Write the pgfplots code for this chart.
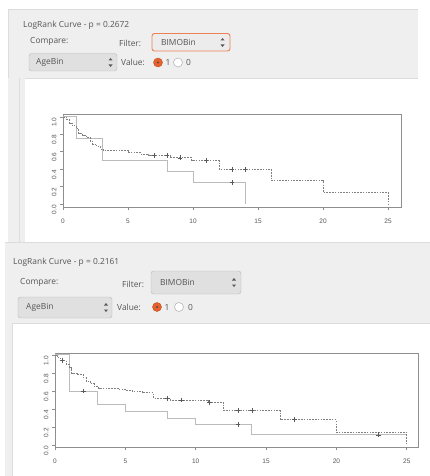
\documentclass[border=0pt]{standalone}
\usepackage{fontspec}
\setmainfont{Open Sans}
\newfontfamily\plotfont{Liberation Sans}
\usepackage{pgfplots}
\usepackage{pgfplotstable}
\pgfplotsset{compat=1.18}
\definecolor{panel}{HTML}{EFEFEF}
\definecolor{panelline}{HTML}{DCDCDC}
\definecolor{guitext}{HTML}{555555}
\definecolor{combofill}{HTML}{E0E0E0}
\definecolor{comboborder}{HTML}{B8B8B8}
\definecolor{ubuorange}{HTML}{E8602C}
\definecolor{framec}{HTML}{8E8E8E}
\definecolor{solidc}{HTML}{BBBBBB}
\definecolor{dashc}{HTML}{808080}
\definecolor{censc}{HTML}{5A5A5A}
\definecolor{tickc}{HTML}{555555}

\pgfplotstableread{
t s
0 1
1 0.75
3 0.5
8 0.375
10 0.25
14 0
}\topsolid
\pgfplotstableread{
t s
0 1
0.3 0.97
0.5 0.93
0.7 0.90
1.0 0.87
1.2 0.81
1.5 0.79
1.8 0.76
2.1 0.72
2.3 0.69
2.6 0.66
2.9 0.63
3.1 0.61
5.0 0.59
6.0 0.57
6.6 0.555
8.3 0.53
9.9 0.50
12 0.40
16 0.27
20 0.135
25 0
}\topdash
\pgfplotstableread{
t s
7 0.555
8 0.555
9 0.53
11 0.50
13 0.40
14 0.40
13 0.25
}\topcens
\pgfplotstableread{
t s
0 1
1 0.6
3 0.45
5 0.375
8 0.30
10 0.225
14 0.1125
25 0.1125
}\botsolid
\pgfplotstableread{
t s
0 1
0.2 0.97
0.4 0.94
0.8 0.90
1.0 0.86
1.2 0.80
1.6 0.78
2.0 0.75
2.2 0.71
2.5 0.68
2.8 0.65
3.1 0.63
4.5 0.62
5.0 0.61
5.5 0.60
6.2 0.58
7.0 0.52
8.2 0.50
10.9 0.47
12 0.38
16 0.28
20 0.14
25 0
}\botdash
\pgfplotstableread{
t s
0.5 0.94
2 0.6
8 0.52
9 0.50
11 0.47
13 0.38
14 0.38
17 0.28
13 0.225
23 0.1125
}\botcens

\newcommand{\guifont}{\fontsize{8.4}{10}\selectfont}
\newcommand{\tickfont}{\plotfont\fontsize{6.5}{7.5}\selectfont}

\pgfplotsset{
  kmaxis/.style={
    anchor=north west, scale only axis,
    axis line style={draw=framec, line width=1pt},
    tick pos=left, tick align=outside, major tick length=3pt,
    every tick/.style={draw=framec, line width=0.8pt},
    xtick={0,5,10,15,20,25},
    ytick={0,0.2,0.4,0.6,0.8,1},
    /pgf/number format/assume math mode=true,
    ticklabel style={font=\tickfont, text=tickc},
    xticklabel style={yshift=-5pt},
    yticklabel style={rotate=90, anchor=south, xshift=-5.5pt},
    yticklabel={\pgfmathprintnumber[fixed, fixed zerofill, precision=1]{\tick}},
    xticklabel={\pgfmathprintnumber[fixed, precision=0]{\tick}},
    clip=false,
  },
  solidkm/.style={const plot, no marks, draw=solidc, line width=1pt},
  dashkm/.style={const plot, no marks, draw=dashc, line width=0.9pt, dash pattern=on 1.6pt off 1.2pt},
  censkm/.style={only marks, mark=+, mark size=2.4pt, mark options={draw=censc, line width=0.7pt}},
}

\begin{document}
\begin{tikzpicture}[x=1pt,y=-1pt]
\path[use as bounding box] (0,0) rectangle (430,476);
\fill[white] (0,0) rectangle (430,476);

% ---------- top panel ----------
\fill[panel] (8,9) rectangle (418,78);
\draw[panelline] (8,9.5) -- (418,9.5);
\draw[panelline] (8,9) -- (8,242);
\fill[panel] (8,78) rectangle (25,242);
\draw[panelline] (19,78) -- (19,242);
\draw[panelline] (25,78) -- (418,78);
\node[anchor=west, inner sep=0, font=\guifont, text=guitext] at (23,25) {LogRank Curve - p = 0.2672};
\node[anchor=west, inner sep=0, font=\guifont, text=guitext] at (30,41.5) {Compare:};
\node[anchor=west, inner sep=0, font=\guifont, text=guitext] at (119,43) {Filter:};
\draw[rounded corners=2.5pt, fill=combofill!60!white, draw=ubuorange!80!white, line width=0.9pt] (152,33.5) rectangle (230,51);
\node[anchor=west, inner sep=0, font=\guifont, text=guitext] at (161,42.5) {BIMOBin};
\fill[guitext] (220.5,40.5) -- (222.5,38) -- (224.5,40.5) -- cycle;
\fill[guitext] (220.5,44.5) -- (222.5,47) -- (224.5,44.5) -- cycle;
\draw[rounded corners=2.5pt, fill=combofill, draw=comboborder] (29,53.5) rectangle (117,71);
\node[anchor=west, inner sep=0, font=\guifont, text=guitext] at (36,62.5) {AgeBin};
\fill[guitext] (108.5,60.5) -- (110.5,58) -- (112.5,60.5) -- cycle;
\fill[guitext] (108.5,64.5) -- (110.5,67) -- (112.5,64.5) -- cycle;
\node[anchor=west, inner sep=0, font=\guifont, text=guitext] at (121,62.5) {Value:};
\fill[ubuorange, draw=ubuorange!80!black, line width=0.4pt] (158,62.5) circle (4.5);
\fill[black!70] (158,62.5) circle (1.1);
\node[anchor=west, inner sep=0, font=\guifont, text=guitext] at (165.5,62.5) {1};
\draw[fill=white, draw=comboborder, line width=0.6pt] (178,62.5) circle (4.5);
\node[anchor=west, inner sep=0, font=\guifont, text=guitext] at (186,62.5) {0};

% ---------- bottom panel ----------
\fill[panel] (5,242) rectangle (430,323);
\draw[panelline] (5,242.5) -- (430,242.5);
\fill[panel] (5,323) rectangle (12,476);
\draw[panelline] (12,323) -- (12,476);
\draw[panelline] (12,323) -- (430,323);
\node[anchor=west, inner sep=0, font=\guifont, text=guitext] at (13,262) {LogRank Curve - p = 0.2161};
\node[anchor=west, inner sep=0, font=\guifont, text=guitext] at (20,282) {Compare:};
\node[anchor=west, inner sep=0, font=\guifont, text=guitext] at (122,284.5) {Filter:};
\draw[rounded corners=2.5pt, fill=combofill, draw=comboborder] (151,271) rectangle (241,294);
\node[anchor=west, inner sep=0, font=\guifont, text=guitext] at (160,282.5) {BIMOBin};
\fill[guitext] (232,280.5) -- (234,278) -- (236,280.5) -- cycle;
\fill[guitext] (232,284.5) -- (234,287) -- (236,284.5) -- cycle;
\draw[rounded corners=2.5pt, fill=combofill, draw=comboborder] (18,297) rectangle (112,318);
\node[anchor=west, inner sep=0, font=\guifont, text=guitext] at (26,307.5) {AgeBin};
\fill[guitext] (104,305.5) -- (106,303) -- (108,305.5) -- cycle;
\fill[guitext] (104,309.5) -- (106,312) -- (108,309.5) -- cycle;
\node[anchor=west, inner sep=0, font=\guifont, text=guitext] at (117,307) {Value:};
\fill[ubuorange, draw=ubuorange!80!black, line width=0.4pt] (157,307) circle (4.5);
\fill[black!70] (157,307) circle (1.1);
\node[anchor=west, inner sep=0, font=\guifont, text=guitext] at (164.5,307) {1};
\draw[fill=white, draw=comboborder, line width=0.6pt] (179,307) circle (4.5);
\node[anchor=west, inner sep=0, font=\guifont, text=guitext] at (188,307) {0};

% ---------- top plot ----------
\begin{axis}[kmaxis, at={(63pt,-114pt)}, width=338pt, height=93pt,
  xmin=0, xmax=26, ymin=-0.034, ymax=1.034]
  \addplot[solidkm] table[x=t,y=s] {\topsolid};
  \addplot[dashkm] table[x=t,y=s] {\topdash};
  \addplot[censkm] table[x=t,y=s] {\topcens};
\end{axis}

% ---------- bottom plot ----------
\begin{axis}[kmaxis, at={(55pt,-353pt)}, width=363pt, height=94pt,
  xmin=0, xmax=25.8, ymin=-0.022, ymax=1.022]
  \addplot[solidkm] table[x=t,y=s] {\botsolid};
  \addplot[dashkm] table[x=t,y=s] {\botdash};
  \addplot[censkm] table[x=t,y=s] {\botcens};
\end{axis}
\end{tikzpicture}
\end{document}
